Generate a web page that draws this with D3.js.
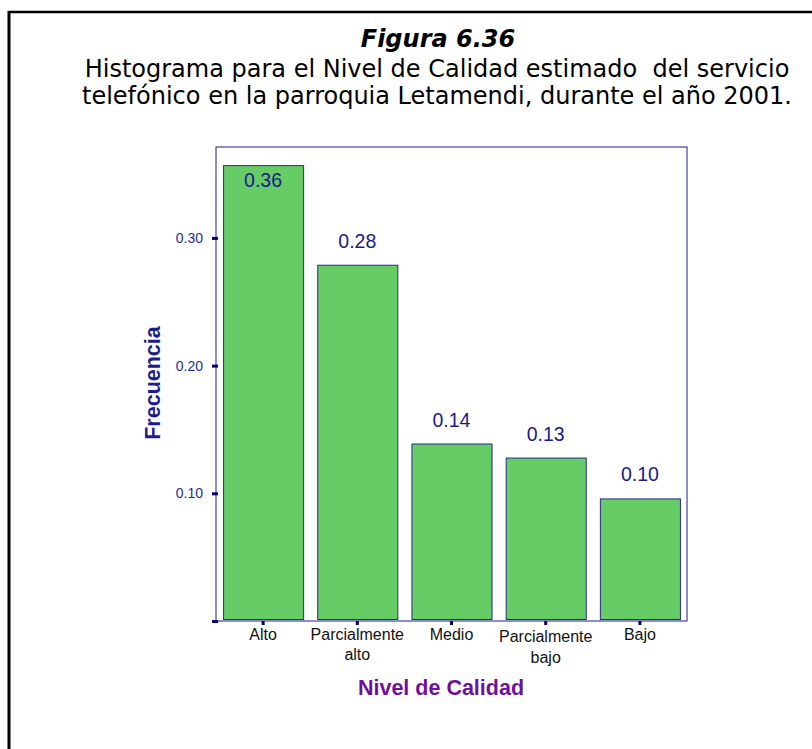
<!DOCTYPE html>
<html>
<head>
<meta charset="utf-8">
<script src="https://cdn.jsdelivr.net/npm/d3@7"></script>
<style>
  html, body { margin: 0; padding: 0; background: #fff; }
  svg { display: block; }
</style>
</head>
<body>
<svg id="chart" width="812" height="749"></svg>
<script>
const categories = ["Alto", "Parcialmente alto", "Medio", "Parcialmente bajo", "Bajo"];
const categoryLines = [["Alto"], ["Parcialmente", "alto"], ["Medio"], ["Parcialmente", "bajo"], ["Bajo"]];
const frequencies = [0.357, 0.279, 0.139, 0.128, 0.096];
const valueLabels = ["0.36", "0.28", "0.14", "0.13", "0.10"];
const yTicks = [0, 0.10, 0.20, 0.30];
const yTickLabels = ["", "0.10", "0.20", "0.30"];
const titleLines = ["Figura 6.36",
  "Histograma para el Nivel de Calidad estimado  del servicio",
  "telefónico en la parroquia Letamendi, durante el año 2001."];
const xTitle = "Nivel de Calidad";
const yTitle = "Frecuencia";

const svg = d3.select("#chart");

// outer border (top and left only)
svg.append("line").attr("x1", 9).attr("x2", 812).attr("y1", 12).attr("y2", 12)
  .attr("stroke", "#000").attr("stroke-width", 2.5);
svg.append("line").attr("x1", 9).attr("x2", 9).attr("y1", 11).attr("y2", 749)
  .attr("stroke", "#000").attr("stroke-width", 3);

// titles
svg.append("text").attr("x", 438).attr("y", 47).attr("text-anchor", "middle")
  .attr("font-family", "DejaVu Sans, Verdana, sans-serif").attr("font-size", 24)
  .attr("font-weight", "bold").attr("font-style", "italic").attr("fill", "#000")
  .text(titleLines[0]);
svg.append("text").attr("x", 437).attr("y", 77).attr("text-anchor", "middle")
  .attr("font-family", "DejaVu Sans, Verdana, sans-serif").attr("font-size", 24)
  .attr("fill", "#000").style("white-space", "pre")
  .text(titleLines[1]);
svg.append("text").attr("x", 437).attr("y", 104).attr("text-anchor", "middle")
  .attr("font-family", "DejaVu Sans, Verdana, sans-serif").attr("font-size", 24)
  .attr("fill", "#000").text(titleLines[2]);

// plot frame
const pLeft = 216, pRight = 687, pTop = 147, pBottom = 621;

const x = d3.scaleBand().domain(categories).range([pLeft, pRight])
  .paddingInner(0.15).paddingOuter(0.075);
const y = d3.scaleLinear().domain([0, 0.3712]).range([pBottom, pTop]);

svg.append("rect").attr("x", pLeft).attr("y", pTop)
  .attr("width", pRight - pLeft).attr("height", pBottom - pTop)
  .attr("fill", "none").attr("stroke", "#1a1a90").attr("stroke-width", 1);

// bars
svg.append("g").selectAll("rect").data(frequencies).join("rect")
  .attr("x", (d, i) => x(categories[i]) + 0.5)
  .attr("y", d => y(d) + 0.5)
  .attr("width", x.bandwidth())
  .attr("height", d => pBottom - 2 - y(d))
  .attr("fill", "#66cc66")
  .attr("stroke", "#2a2a88").attr("stroke-width", 1);

// value labels
svg.append("g").selectAll("text").data(frequencies).join("text")
  .attr("x", (d, i) => x(categories[i]) + x.bandwidth() / 2)
  .attr("y", d => (y(d) - 30 < pTop) ? y(d) + 22 : y(d) - 17)
  .attr("text-anchor", "middle")
  .attr("font-family", "Liberation Sans, Arial, sans-serif").attr("font-size", 19.5)
  .attr("fill", "#1a1a8a")
  .text((d, i) => valueLabels[i]);

// y axis
const yAxis = d3.axisLeft(y).tickValues(yTicks).tickSize(0).tickPadding(13)
  .tickFormat((d, i) => yTickLabels[i]);
const gy = svg.append("g").attr("transform", `translate(${pLeft},0)`).call(yAxis);
gy.select(".domain").remove();
gy.selectAll("text").attr("font-family", "Liberation Sans, Arial, sans-serif")
  .attr("font-size", 14).attr("fill", "#2b2b8f");
gy.selectAll(".tick").append("line").attr("x1", -4).attr("x2", 2)
  .attr("stroke", "#00007a").attr("stroke-width", 3);

// x axis ticks
const gx = svg.append("g");
gx.selectAll("line").data(categories).join("line")
  .attr("x1", d => x(d) + x.bandwidth() / 2).attr("x2", d => x(d) + x.bandwidth() / 2)
  .attr("y1", pBottom).attr("y2", pBottom + 4)
  .attr("stroke", "#00007a").attr("stroke-width", 3);
gx.selectAll("text").data(categories).join("text")
  .attr("text-anchor", "middle")
  .attr("font-family", "Liberation Sans, Arial, sans-serif").attr("font-size", 16)
  .attr("fill", "#111")
  .each(function (d, i) {
    const t = d3.select(this);
    const cx = x(d) + x.bandwidth() / 2;
    categoryLines[i].forEach((ln, j) => {
      t.append("tspan").attr("x", cx)
        .attr("y", pBottom + 19 + j * (i === 3 ? 21 : 20) + (i === 3 ? 2 : 0))
        .text(ln);
    });
  });

// axis titles
svg.append("text").attr("x", 441).attr("y", 695).attr("text-anchor", "middle")
  .attr("font-family", "Liberation Sans, Arial, sans-serif").attr("font-size", 21.5)
  .attr("font-weight", "bold").attr("fill", "#70109a").text(xTitle);
svg.append("text").attr("transform", "translate(160,383) rotate(-90)").attr("text-anchor", "middle")
  .attr("font-family", "Liberation Sans, Arial, sans-serif").attr("font-size", 21.5)
  .attr("font-weight", "bold").attr("fill", "#1c1c8c").text(yTitle);
</script>
</body>
</html>
